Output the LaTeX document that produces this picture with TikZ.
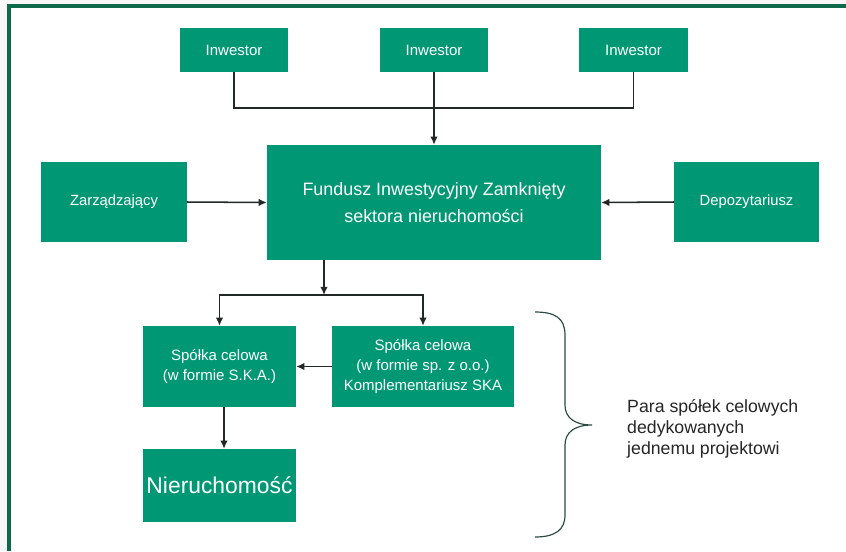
\documentclass[tikz,border=0pt]{standalone}
\usepackage{fontspec}
\setmainfont{Liberation Sans}
\usetikzlibrary{arrows.meta}
\definecolor{boxgreen}{RGB}{0,152,116}
\definecolor{framegreen}{RGB}{14,106,74}
\definecolor{linegray}{RGB}{34,40,38}
\definecolor{bracegray}{RGB}{42,74,68}
\definecolor{textgray}{RGB}{38,38,38}
\tikzset{
	box/.style={fill=boxgreen, text=white, inner sep=0pt, align=center, font=\fontsize{12.8}{17}\selectfont},
	link/.style={draw=linegray, line width=1.3pt},
}
\begin{document}
\begin{tikzpicture}[x=0.03cm, y=-0.03cm, >={Latex[length=7pt,width=6.5pt]}]
			\useasboundingbox (0,0) rectangle (846,551);
			\fill[gray!6] (0,0) rectangle (846,551);
			\fill[white] (9,6) rectangle (846,551);
			\draw[framegreen, line width=2.6pt] (9,551) -- (9,6) -- (846,6);

			\node[box, minimum width=3.24cm, minimum height=1.32cm] (inw1) at (234,50) {Inwestor};
			\node[box, minimum width=3.24cm, minimum height=1.32cm] (inw2) at (434,50) {Inwestor};
			\node[box, minimum width=3.27cm, minimum height=1.32cm] (inw3) at (633.5,50) {Inwestor};
			\node[box, minimum width=10.02cm, minimum height=3.45cm, font=\fontsize{15.3}{23}\selectfont] (fund) at (434,202.5) {Fundusz Inwestycyjny Zamknięty\\sektora nieruchomości};
			\node[box, minimum width=4.38cm, minimum height=2.4cm, font=\fontsize{12.6}{15}\selectfont] (zarz) at (114,202) {Zarządzający};
			\node[box, minimum width=4.35cm, minimum height=2.4cm, font=\fontsize{12.6}{15}\selectfont] (depo) at (746.5,202) {Depozytariusz};
			\node[box, minimum width=4.59cm, minimum height=2.43cm] (ska) at (219.5,366.5) {Spółka celowa\\(w formie S.K.A.)};
			\node[box, minimum width=5.46cm, minimum height=2.43cm] (zoo) at (423,366.5) {Spółka celowa\\(w formie sp. z o.o.)\\Komplementariusz SKA};
			\node[box, minimum width=4.59cm, minimum height=2.19cm, font=\fontsize{19.5}{23}\selectfont] (nier) at (219.5,485.5) {Nieruchomość};
			\node[anchor=west, align=left, inner sep=0pt, text=textgray, font=\fontsize{15.1}{17.9}\selectfont] (para) at (627,429) {Para spółek celowych\\dedykowanych\\jednemu projektowi};

			\coordinate (top) at (434,108);
			\coordinate (split) at (324,295);
			\draw[link] (inw1.south) |- (top) -| (inw3.south);
			\draw[link,->] (inw2.south) -- (fund.north);
			\draw[link,->] (zarz.east) -- (fund.west);
			\draw[link,->] (depo.west) -- (fund.east);
			\draw[link,->] (fund.south -| split) -- (split);
			\draw[link,->] (split) -| (ska.north);
			\draw[link,->] (split) -| (zoo.north);
			\draw[link,->] (zoo.west) -- (ska.east);
			\draw[link,->] ([xshift=0.135cm]ska.south) -- ([xshift=0.135cm]nier.north);

			\draw[bracegray, line width=1pt] (535,312) .. controls (555,312) and (565,318) .. (565,335) -- (565,405) .. controls (565,418) and (575,425) .. (592,425) .. controls (575,425) and (565,432) .. (565,445) -- (565,515) .. controls (565,530) and (555,537) .. (535,537);
		\end{tikzpicture}
\end{document}
